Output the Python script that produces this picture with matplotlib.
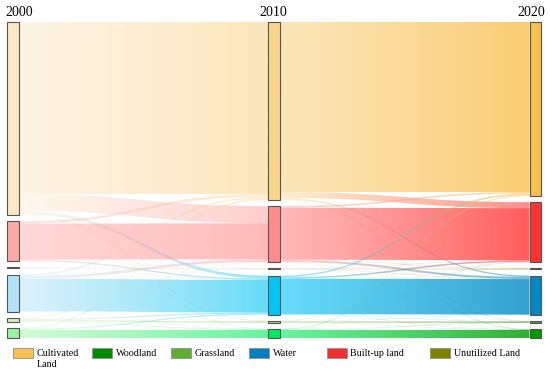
import numpy as np
import matplotlib
matplotlib.use("Agg")
import matplotlib.pyplot as plt
from matplotlib.path import Path
from matplotlib.patches import PathPatch, Rectangle
from matplotlib.colors import to_rgba

# Kategorien (Reihenfolge im Sankey, oben nach unten)
categories = ["Cultivated Land", "Built-up land", "Unutilized Land", "Water", "Grassland", "Woodland"]
years = ["2000", "2010", "2020"]

# Flussmatrizen (Zeile = Quelle, Spalte = Ziel)
flows_2000_2010 = [
    [172.0, 17.0, 0.3, 2.9, 0.5, 0.3],
    [2.5, 36.0, 0.2, 1.3, 0.0, 0.0],
    [0.2, 0.2, 0.4, 0.2, 0.0, 0.0],
    [1.5, 2.5, 0.1, 32.5, 0.2, 0.2],
    [1.0, 0.2, 0.0, 1.1, 1.2, 0.5],
    [0.8, 0.1, 0.0, 1.0, 0.1, 8.0],
]
flows_2010_2020 = [
    [170.0, 6.0, 0.2, 1.2, 0.3, 0.3],
    [1.5, 52.0, 0.3, 2.0, 0.1, 0.1],
    [0.1, 0.2, 0.4, 0.3, 0.0, 0.0],
    [1.5, 1.5, 0.1, 35.5, 0.2, 0.2],
    [0.4, 0.1, 0.0, 0.2, 1.1, 0.2],
    [0.5, 0.2, 0.0, 0.0, 0.3, 8.0],
]

# Knotenfarben je Jahr
node_colors_2000 = ["#fde8c6", "#ffa8a8", "#d8d8c0", "#b0e2f8", "#d6eeb4", "#98f5a6"]
node_colors_2010 = ["#fad58c", "#ff8a8a", "#c0c090", "#00c4f4", "#a8d484", "#00ec5c"]
node_colors_2020 = ["#f9c04f", "#ff3333", "#808000", "#0088c4", "#55a030", "#009900"]

# Legende
legend_labels = ["Cultivated\nLand", "Woodland", "Grassland", "Water", "Built-up land", "Unutilized Land"]
legend_colors = ["#f8c050", "#008c00", "#60b030", "#0080c0", "#f03030", "#808000"]

# Layout (Pixel)
W, H = 550, 374
col_x = [7, 268, 529.5]
node_w = 11.5
top, bottom = 22, 338
gap = 6.2

fig = plt.figure(figsize=(W / 100, H / 100), dpi=100)
ax = fig.add_axes([0, 0, 1, 1])
ax.set_xlim(0, W)
ax.set_ylim(H, 0)
ax.axis("off")

f1 = np.array(flows_2000_2010)
f2 = np.array(flows_2010_2020)
values = [
    f1.sum(axis=1),
    np.maximum(f1.sum(axis=0), f2.sum(axis=1)),
    f2.sum(axis=0),
]
scale = (bottom - top - gap * (len(categories) - 1)) / max(v.sum() for v in values)

# Knotenpositionen
node_y = []
for v in values:
    ys = []
    y = top
    for val in v:
        ys.append((y, y + val * scale))
        y += val * scale + gap
    node_y.append(ys)


def draw_band(x0, y0a, y0b, x1, y1a, y1b, c0, c1, a0, a1):
    xm = (x0 + x1) / 2
    verts = [(x0, y0a), (xm, y0a), (xm, y1a), (x1, y1a),
             (x1, y1b), (xm, y1b), (xm, y0b), (x0, y0b), (x0, y0a)]
    codes = [Path.MOVETO, Path.CURVE4, Path.CURVE4, Path.CURVE4,
             Path.LINETO, Path.CURVE4, Path.CURVE4, Path.CURVE4, Path.CLOSEPOLY]
    patch = PathPatch(Path(verts, codes), facecolor="none", edgecolor="none", transform=ax.transData)
    ax.add_patch(patch)
    n = 64
    t = np.linspace(0, 1, n)[:, None]
    ca = np.array(to_rgba(c0))
    cb = np.array(to_rgba(c1))
    grad = ca * (1 - t) + cb * t
    grad[:, 3] = a0 * (1 - t[:, 0]) + a1 * t[:, 0]
    ymin = min(y0a, y1a) - 1
    ymax = max(y0b, y1b) + 1
    im = ax.imshow(grad[None, :, :], extent=[x0, x1, ymax, ymin], aspect="auto",
                   interpolation="bilinear", zorder=1)
    im.set_clip_path(patch)


colors_by_col = [node_colors_2000, node_colors_2010, node_colors_2020]
alphas = [(0.45, 0.6), (0.6, 0.8)]
for k, fm in enumerate([f1, f2]):
    out_off = [node_y[k][i][0] for i in range(len(categories))]
    x0 = col_x[k] + node_w
    x1 = col_x[k + 1]
    for i in range(len(categories)):
        for j in range(len(categories)):
            v = fm[i, j]
            if v <= 0:
                continue
            h = v * scale
            # Eingangsoffset nach Quellreihenfolge
            in_start = node_y[k + 1][j][0] + fm[:i, j].sum() * scale
            a0, a1 = alphas[k]
            if i != j:
                # kleine Querfluesse etwas blasser
                a0, a1 = a0 * 0.7, a1 * 0.7
            draw_band(x0, out_off[i], out_off[i] + h, x1, in_start, in_start + h,
                      colors_by_col[k][i], colors_by_col[k + 1][j], a0, a1)
            out_off[i] += h

ax.set_xlim(0, W)
ax.set_ylim(H, 0)

# Knoten zeichnen
for k in range(3):
    for i in range(len(categories)):
        y0, y1 = node_y[k][i]
        ax.add_patch(Rectangle((col_x[k], y0), node_w, max(y1 - y0, 0.8),
                               facecolor=colors_by_col[k][i], edgecolor="#555555",
                               linewidth=0.8, zorder=3))

# Jahresbeschriftung
ax.text(5, 12, years[0], fontsize=10, family="Liberation Serif", ha="left", va="center")
ax.text(col_x[1] + node_w / 2, 12, years[1], fontsize=10, family="Liberation Serif", ha="center", va="center")
ax.text(545, 12, years[2], fontsize=10, family="Liberation Serif", ha="right", va="center")

# Legende
leg_x = [13, 92, 171, 249, 327, 430]
for x, lab, c in zip(leg_x, legend_labels, legend_colors):
    ax.add_patch(Rectangle((x, 348), 20, 10, facecolor=c, edgecolor="#909090", linewidth=0.6, zorder=3))
    ax.text(x + 23.5, 348.5, lab, fontsize=7.2, family="Liberation Serif", ha="left", va="top",
            linespacing=1.4)

fig.savefig("out.png", dpi=100)
